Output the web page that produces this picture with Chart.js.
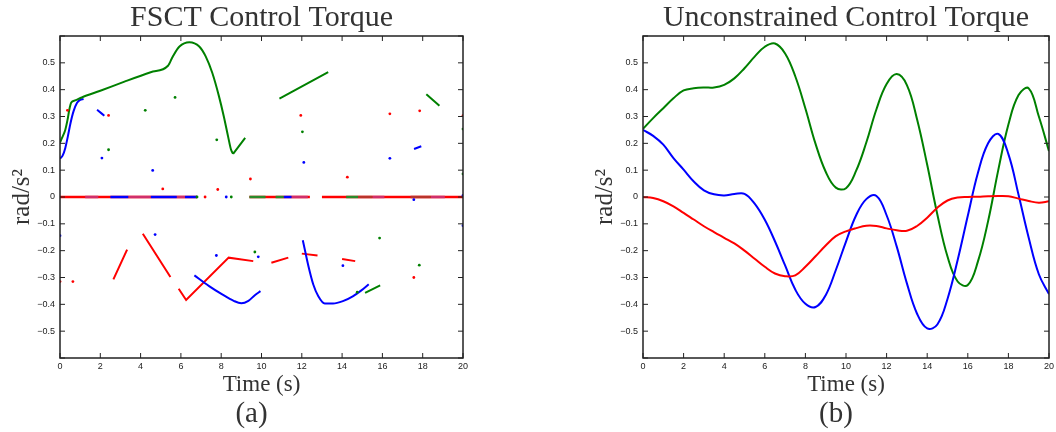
<!DOCTYPE html>
<html lang="en">
<head>
  <meta charset="UTF-8">
  <title>Control Torque</title>
  <script src="https://cdn.jsdelivr.net/npm/chart.js"></script>
  <style>
    html, body { margin: 0; padding: 0; background: #fff; overflow: hidden; width: 1056px; height: 432px; }
    canvas { position: absolute; top: 0; }
    #graficoA { left: 0; }
    #graficoB { left: 583px; }
  </style>
</head>
<body>
  <canvas id="graficoA" width="523" height="432"></canvas>
  <canvas id="graficoB" width="526" height="432"></canvas>
  <script>
    // ---- (b) unconstrained, read every 0.5 s ----
    const tempoB = [0, 0.5, 1, 1.5, 2, 2.5, 3, 3.5, 4, 4.5, 5, 5.5, 6, 6.5, 7, 7.5, 8, 8.5, 9, 9.5, 10,
      10.5, 11, 11.5, 12, 12.5, 13, 13.5, 14, 14.5, 15, 15.5, 16, 16.5, 17, 17.5, 18, 18.5, 19, 19.5, 20];
    const verdeB = [0.254, 0.294, 0.331, 0.368, 0.397, 0.405, 0.408, 0.408, 0.418, 0.442, 0.48, 0.523, 0.56, 0.572,
      0.535, 0.45, 0.33, 0.198, 0.094, 0.035, 0.033, 0.098, 0.203, 0.327, 0.421, 0.458, 0.417, 0.29, 0.12, -0.065,
      -0.222, -0.315, -0.328, -0.24, -0.09, 0.1, 0.27, 0.38, 0.405, 0.3, 0.171];
    const azulB = [0.25, 0.228, 0.195, 0.145, 0.102, 0.058, 0.025, 0.01, 0.006, 0.011, 0.012, -0.025, -0.085, -0.165,
      -0.255, -0.345, -0.398, -0.41, -0.366, -0.272, -0.166, -0.068, -0.008, 0.004, -0.068, -0.185, -0.322, -0.435,
      -0.49, -0.475, -0.38, -0.235, -0.07, 0.09, 0.2, 0.235, 0.16, 0.008, -0.152, -0.288, -0.362];
    const vermelhoB = [0, -0.004, -0.016, -0.035, -0.059, -0.084, -0.109, -0.131, -0.152, -0.173, -0.2, -0.23, -0.26,
      -0.285, -0.295, -0.292, -0.26, -0.221, -0.181, -0.146, -0.128, -0.116, -0.107, -0.108, -0.117, -0.124, -0.126,
      -0.108, -0.077, -0.04, -0.013, -0.002, 0, 0.001, 0.003, 0.004, 0.003, -0.006, -0.015, -0.021, -0.016];

    // ---- (a) FSCT: pieces of each trace as [t, valor] ----
    const verdeA = [
      [[0, 0.203], [0.1, 0.22], [0.26, 0.25], [0.38, 0.29], [0.46, 0.325], [0.56, 0.352], [0.75, 0.36], [1.08, 0.371],
       [2.0, 0.396], [3.2, 0.43], [4.5, 0.465], [5.36, 0.489], [5.6, 0.524], [5.93, 0.561], [6.42, 0.577], [6.91, 0.561],
       [7.23, 0.524], [7.56, 0.462], [7.89, 0.375], [8.13, 0.3], [8.34, 0.226], [8.49, 0.176], [8.59, 0.161]],
      [[8.59, 0.161], [9.19, 0.22]],
      [[10.89, 0.367], [13.31, 0.465]],
      [[18.18, 0.383], [18.83, 0.34]],
      [[15.14, -0.357], [15.89, -0.329]]
    ];
    const azulA = [
      [[0, 0.143], [0.13, 0.154], [0.26, 0.182], [0.39, 0.226], [0.52, 0.275], [0.67, 0.319], [0.84, 0.35], [1.0, 0.362], [1.17, 0.365]],
      [[1.84, 0.325], [2.2, 0.303]],
      [[17.57, 0.179], [17.93, 0.189]],
      [[6.67, -0.292], [7.4, -0.332], [8.05, -0.363], [8.62, -0.387], [9.0, -0.396], [9.35, -0.387], [9.67, -0.366], [9.95, -0.351]],
      [[12.05, -0.161], [12.33, -0.258], [12.57, -0.326], [12.82, -0.37], [13.14, -0.397], [13.55, -0.397], [14.04, -0.388],
       [14.53, -0.37], [14.94, -0.349], [15.32, -0.325]]
    ];
    const vermelhoA = [
      [[2.65, -0.307], [3.33, -0.196]],
      [[4.11, -0.137], [5.48, -0.298]],
      [[5.89, -0.342], [6.26, -0.384], [8.37, -0.226], [9.59, -0.239]],
      [[10.49, -0.245], [11.33, -0.226]],
      [[12.0, -0.211], [12.78, -0.218]],
      [[14.0, -0.231], [14.65, -0.239]]
    ];

    // loose samples
    const pontosVerdeA = [[2.41, 0.176], [4.23, 0.323], [5.71, 0.371], [7.78, 0.213], [12.03, 0.243], [9.67, -0.205],
      [14.75, -0.355], [15.86, -0.153], [17.83, -0.254], [20, 0.253], [20, 0.086], [6.8, 0], [8.5, 0]];
    const pontosAzulA = [[2.08, 0.145], [4.6, 0.099], [12.1, 0.129], [16.37, 0.144], [0, -0.144], [4.72, -0.14],
      [7.76, -0.218], [9.84, -0.223], [14.04, -0.256], [17.56, -0.01], [20, -0.107], [20, 0.006], [8.25, 0]];
    const pontosVermelhoA = [[0.37, 0.323], [2.41, 0.304], [5.1, 0.03], [7.83, 0.028], [9.45, 0.067], [11.95, 0.304],
      [14.26, 0.074], [16.37, 0.31], [17.85, 0.321], [20, 0.303], [0, -0.315], [0.64, -0.315], [17.56, -0.3], [7.2, 0]];

    // samples sitting on zero, as time spans [inicio, fim]
    const faixaVermelha = [[0, 6.8], [9.4, 12.4], [13.0, 20]];
    const faixaAzul = [[2.5, 3.4], [4.5, 5.8], [6.2, 6.8], [11.1, 11.5]];
    const faixaMagenta = [[1.25, 1.9], [3.4, 4.5], [5.8, 6.2], [11.5, 12.3], [15.5, 16.1], [18.4, 19.1]];
    const faixaVerde = [[9.4, 10.2], [10.7, 11.1], [14.2, 14.8]];
    const faixaMarrom = [[14.8, 15.5], [17.4, 18.4]];

    const VERDE = '#008000', AZUL = '#0000ff', VERMELHO = '#ff0000';

    function pedacos(lista) {
      const out = [];
      lista.forEach(seg => {
        seg.forEach(p => out.push({ x: p[0], y: p[1] }));
        out.push({ x: seg[seg.length - 1][0], y: null });
      });
      return out;
    }
    function faixa(spans) {
      return pedacos(spans.map(s => [[s[0], 0], [s[1], 0]]));
    }
    function pontos(lista) {
      return lista.map(p => ({ x: p[0], y: p[1] }));
    }

    function linha(data, cor, extra) {
      return Object.assign({ type: 'line', data, borderColor: cor, borderWidth: 2, pointRadius: 0, spanGaps: false, fill: false }, extra);
    }
    function nuvem(data, cor) {
      return { type: 'scatter', data, backgroundColor: cor, borderWidth: 0, pointRadius: 1.4, showLine: false };
    }

    // box + inward tick marks (matlab look) and the panel letter
    const moldura = {
      id: 'moldura',
      afterDraw(chart, args, opts) {
        const { ctx, chartArea: a, scales } = chart;
        ctx.save();
        ctx.strokeStyle = '#222';
        ctx.lineWidth = 1;
        ctx.beginPath();
        scales.x.ticks.forEach(t => {
          const px = scales.x.getPixelForValue(t.value);
          ctx.moveTo(px, a.bottom); ctx.lineTo(px, a.bottom - 5);
          ctx.moveTo(px, a.top); ctx.lineTo(px, a.top + 5);
        });
        scales.y.ticks.forEach(t => {
          const py = scales.y.getPixelForValue(t.value);
          ctx.moveTo(a.left, py); ctx.lineTo(a.left + 5, py);
          ctx.moveTo(a.right, py); ctx.lineTo(a.right - 5, py);
        });
        ctx.stroke();
        ctx.lineWidth = 1.5;
        ctx.strokeRect(a.left, a.top, a.width, a.height);
        ctx.fillStyle = '#333';
        ctx.font = '29px "Liberation Serif"';
        ctx.textAlign = 'center';
        ctx.textBaseline = 'alphabetic';
        ctx.fillText(opts.letra, (a.left + a.right) / 2 - 10, 422);
        ctx.restore();
      }
    };

    function opcoes(titulo, letra) {
      const fonteTick = { family: 'Liberation Sans', size: 9 };
      return {
        responsive: false,
        animation: false,
        events: [],
        layout: { padding: 0 },
        plugins: {
          legend: { display: false },
          tooltip: { enabled: false },
          title: {
            display: true, text: titulo, color: '#333',
            font: { family: 'Liberation Serif', size: 30, weight: 'normal', lineHeight: 1.0 },
            padding: { top: 3, bottom: 3 }
          },
          moldura: { letra }
        },
        scales: {
          x: {
            type: 'linear', min: 0, max: 20,
            afterFit: s => { s.height = 74; },
            grid: { display: false, drawTicks: false },
            border: { display: false },
            ticks: { stepSize: 2, color: '#222', font: fonteTick, padding: 3, maxRotation: 0, autoSkip: false },
            title: {
              display: true, text: 'Time (s)', color: '#333',
              font: { family: 'Liberation Serif', size: 23, lineHeight: 1.2 },
              padding: { top: 0, bottom: 33 }
            }
          },
          y: {
            min: -0.6, max: 0.6,
            afterFit: s => { s.width = 60; },
            grid: { display: false, drawTicks: false },
            border: { display: false },
            ticks: {
              stepSize: 0.1, color: '#222', font: fonteTick, padding: 5, autoSkip: false,
              callback: v => {
                const r = Math.round(v * 10) / 10;
                if (Math.abs(r) > 0.55) return '';
                if (r === 0) return '0';
                return (r < 0 ? '\u2212' : '') + Math.abs(r);
              }
            },
            title: {
              display: true, text: 'rad/s²', color: '#333',
              font: { family: 'Liberation Serif', size: 25, lineHeight: 1.2 },
              padding: { top: 7, bottom: 0 }
            }
          },
          y2: {
            position: 'right', min: -0.6, max: 0.6,
            afterFit: s => { s.width = 60; },
            grid: { display: false, drawTicks: false },
            border: { display: false },
            ticks: { display: false }
          }
        }
      };
    }

    const suave = { cubicInterpolationMode: 'monotone' };
    const reta = { tension: 0 };
    const fina = { borderWidth: 2.5, tension: 0 };

    // dataset 0 is painted last (on top), so the list goes from top to bottom
    new Chart(document.getElementById('graficoA'), {
      type: 'line',
      data: {
        datasets: [
          nuvem(pontos(pontosVerdeA), VERDE),
          nuvem(pontos(pontosAzulA), AZUL),
          nuvem(pontos(pontosVermelhoA), VERMELHO),
          linha(pedacos(verdeA), VERDE, suave),
          linha(pedacos(azulA), AZUL, suave),
          linha(pedacos(vermelhoA), VERMELHO, reta),
          linha(faixa(faixaMarrom), '#b8352c', fina),
          linha(faixa(faixaVerde), '#2a8a2a', fina),
          linha(faixa(faixaMagenta), '#cf2f6c', fina),
          linha(faixa(faixaAzul), AZUL, fina),
          linha(faixa(faixaVermelha), VERMELHO, fina)
        ]
      },
      options: opcoes('FSCT Control Torque', '(a)'),
      plugins: [moldura]
    });

    const serie = valores => tempoB.map((t, i) => ({ x: t, y: valores[i] }));

    new Chart(document.getElementById('graficoB'), {
      type: 'line',
      data: {
        datasets: [
          linha(serie(vermelhoB), VERMELHO, { tension: 0.4 }),
          linha(serie(azulB), AZUL, { tension: 0.4 }),
          linha(serie(verdeB), VERDE, { tension: 0.4 })
        ]
      },
      options: opcoes('Unconstrained Control Torque', '(b)'),
      plugins: [moldura]
    });
  </script>
</body>
</html>
